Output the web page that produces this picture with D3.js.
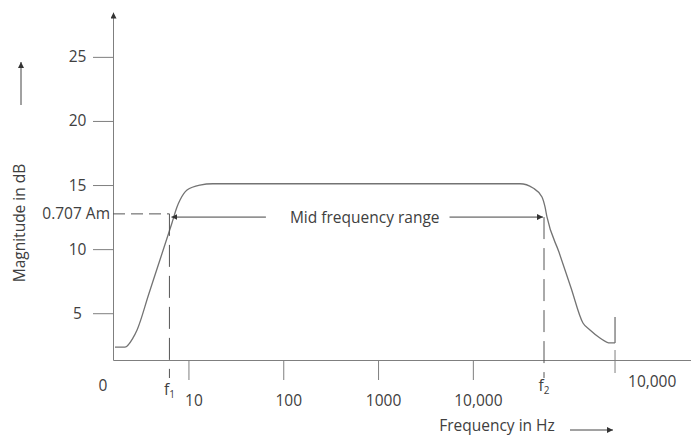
<!DOCTYPE html>
<html>
<head>
<meta charset="utf-8">
<script src="https://cdn.jsdelivr.net/npm/d3@7"></script>
<style>
  body { margin: 0; background: #fff; }
  text { font-family: "Open Sans", sans-serif; font-size: 15.5px; fill: #404040; }
</style>
</head>
<body>
<div id="graf"></div>
<script>
// values (frequency in Hz, magnitude in dB)
const yTicks = [5, 10, 15, 20, 25]
const xTicks = [10, 100, 1000, 10000]
const xTickLabels = ["10", "100", "1000", "10,000"]
const curveFreq = [1.68, 2.14, 2.6, 2.87, 3.81, 5.05, 6.7, 7.57, 8.15, 9.66, 13.2, 18.1, 31400, 43100, 53600, 57700, 60500, 81100, 108400, 145000, 172000, 219000, 280000, 316000]
const curveDb = [2.36, 2.36, 3.07, 3.69, 6.48, 9.25, 12.04, 13.29, 13.83, 14.61, 15.0, 15.1, 15.1, 14.77, 14.07, 13.29, 12.51, 9.75, 6.99, 4.24, 3.69, 3.07, 2.68, 2.68]
const f1 = 6.3
const f2 = 56300
const cutoffDb = 12.75 // 0.707 Am
const bandDb = 12.5
const endFreq = 316000
const endLabel = "10,000"
const endMarkDb = [2.68, 4.7]

const anchoTotal = 691
const altoTotal = 438
const margins = { top: 12, right: 0, bottom: 78, left: 113 }

const svg = d3.select("#graf")
  .append("svg")
  .attr("width", anchoTotal)
  .attr("height", altoTotal)

svg.append("defs").append("marker")
  .attr("id", "head")
  .attr("viewBox", "0 0 10 10")
  .attr("refX", 10)
  .attr("refY", 5)
  .attr("markerWidth", 6)
  .attr("markerHeight", 6)
  .attr("markerUnits", "userSpaceOnUse")
  .attr("orient", "auto")
  .append("path")
  .attr("d", "M0,0L10,5L0,10Z")
  .attr("fill", "#333")

const x = d3.scaleLog()
  .domain([1.6, 2e6])
  .range([margins.left, anchoTotal - margins.right])

const y = d3.scaleLinear()
  .domain([1.35, 28.5])
  .range([altoTotal - margins.bottom, margins.top])

const axisColor = "#7f7f7f"
const y0 = altoTotal - margins.bottom

// x axis
const gx = svg.append("g")
  .attr("transform", `translate(0, ${y0})`)
  .call(d3.axisBottom(x)
    .tickValues(xTicks)
    .tickFormat((d, i) => xTickLabels[i])
    .tickSize(20)
    .tickSizeOuter(0)
    .tickPadding(15))
gx.select(".domain").attr("stroke", axisColor)
gx.selectAll(".tick line").attr("stroke", axisColor)
gx.selectAll(".tick text").attr("dx", 5).attr("font-size", null).attr("font-family", null).attr("fill", "#404040")

// y axis
const gy = svg.append("g")
  .attr("transform", `translate(${margins.left}, 0)`)
  .call(d3.axisLeft(y)
    .tickValues(yTicks)
    .tickSize(20)
    .tickSizeOuter(0))
gy.select(".domain").attr("stroke", axisColor).attr("marker-end", "url(#head)")
gy.selectAll(".tick line").attr("stroke", axisColor)
gy.selectAll(".tick text")
  .attr("x", -35.5)
  .attr("text-anchor", "middle")
  .attr("font-size", null).attr("font-family", null).attr("fill", "#404040")

// origin label
svg.append("text")
  .attr("x", margins.left - 10)
  .attr("y", y0 + 26)
  .attr("dy", "0.35em")
  .attr("text-anchor", "middle")
  .text("0")

// last tick and its label
const xe = x(endFreq)
svg.append("line")
  .attr("x1", xe).attr("x2", xe)
  .attr("y1", y0 - 10).attr("y2", y0 + 13)
  .attr("stroke", axisColor)
svg.append("text")
  .attr("x", xe + 13)
  .attr("y", y0 + 22)
  .attr("dy", "0.35em")
  .text(endLabel)

// response curve
const pts = curveFreq.map((f, i) => [f, curveDb[i]])
const line = d3.line()
  .x((d) => x(d[0]))
  .y((d) => y(d[1]))
  .curve(d3.curveMonotoneX)

svg.append("path")
  .datum(pts)
  .attr("d", line)
  .attr("fill", "none")
  .attr("stroke", "#737373")
  .attr("stroke-width", 1.3)

// cut mark at the end of the curve
svg.append("line")
  .attr("x1", xe).attr("x2", xe)
  .attr("y1", y(endMarkDb[0])).attr("y2", y(endMarkDb[1]))
  .attr("stroke", "#737373")
  .attr("stroke-width", 1.3)

// 0.707 Am level
svg.append("line")
  .attr("x1", margins.left).attr("x2", x(f1))
  .attr("y1", y(cutoffDb)).attr("y2", y(cutoffDb))
  .attr("stroke", "#555")
  .attr("stroke-dasharray", "12,6")
svg.append("text")
  .attr("x", margins.left - 3)
  .attr("y", y(cutoffDb))
  .attr("dy", "0.35em")
  .attr("text-anchor", "end")
  .text("0.707 Am")

// f1 / f2 dashed verticals
const cut = [
  { f: f1, db: cutoffDb, sub: "1", dy: 30 },
  { f: f2, db: bandDb, sub: "2", dy: 26 },
]
cut.forEach((c) => {
  svg.append("line")
    .attr("x1", x(c.f)).attr("x2", x(c.f))
    .attr("y1", y(c.db)).attr("y2", y0 + 18)
    .attr("stroke", "#555")
    .attr("stroke-dasharray", "22,9")
  const t = svg.append("text")
    .attr("x", x(c.f))
    .attr("y", y0 + c.dy)
    .attr("dy", "0.35em")
    .attr("text-anchor", "middle")
  t.append("tspan").text("f")
  t.append("tspan").attr("font-size", 10).attr("dy", 3).text(c.sub)
})

// mid frequency range
const midX = (x(f1) + x(f2)) / 2 + 8
const mid = svg.append("text")
  .attr("x", midX)
  .attr("y", y(bandDb))
  .attr("dy", "0.35em")
  .attr("text-anchor", "middle")
  .text("Mid frequency range")
const tw = mid.node().getComputedTextLength()
svg.append("line")
  .attr("x1", midX - tw / 2 - 24).attr("x2", x(f1) + 2)
  .attr("y1", y(bandDb)).attr("y2", y(bandDb))
  .attr("stroke", "#444")
  .attr("marker-end", "url(#head)")
svg.append("line")
  .attr("x1", midX + tw / 2 + 10).attr("x2", x(f2) - 1)
  .attr("y1", y(bandDb)).attr("y2", y(bandDb))
  .attr("stroke", "#444")
  .attr("marker-end", "url(#head)")

// axis titles
svg.append("text")
  .attr("transform", "translate(20, 223) rotate(-90)")
  .attr("dy", "0.35em")
  .attr("text-anchor", "middle")
  .text("Magnitude in dB")
svg.append("line")
  .attr("x1", 21).attr("x2", 21)
  .attr("y1", 105).attr("y2", 62)
  .attr("stroke", "#444")
  .attr("marker-end", "url(#head)")

svg.append("text")
  .attr("x", 497)
  .attr("y", 426)
  .attr("dy", "0.35em")
  .attr("text-anchor", "middle")
  .text("Frequency in Hz")
svg.append("line")
  .attr("x1", 570).attr("x2", 613)
  .attr("y1", 430).attr("y2", 430)
  .attr("stroke", "#444")
  .attr("marker-end", "url(#head)")
</script>
</body>
</html>
